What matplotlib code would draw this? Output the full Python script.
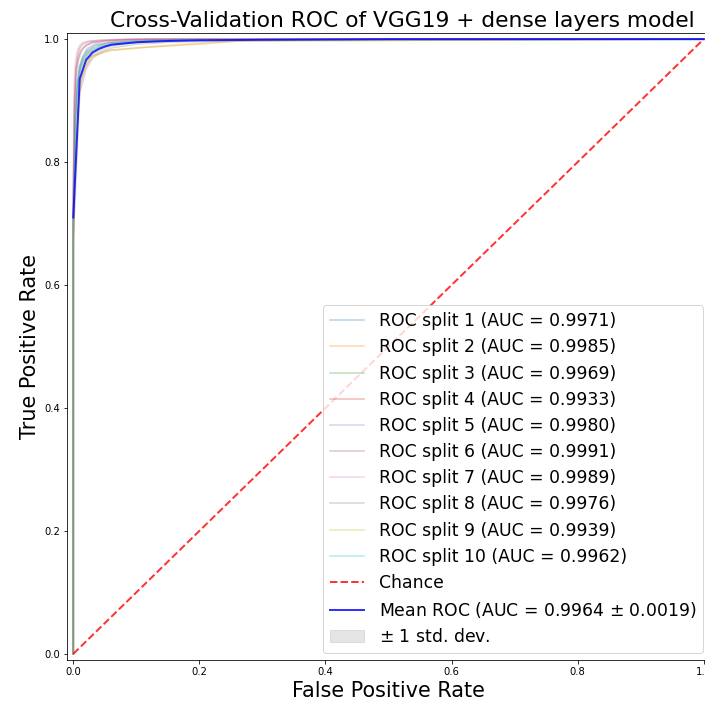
import matplotlib
matplotlib.use("Agg")
import matplotlib.pyplot as plt
import numpy as np

title = "Cross-Validation ROC of VGG19 + dense layers model"
aucs = [0.9971, 0.9985, 0.9969, 0.9933, 0.9980, 0.9991, 0.9989, 0.9976, 0.9939, 0.9962]
mean_auc = 0.9964
std_auc = 0.0019

# per-split ROC curves (fpr, tpr)
split_fpr = [
    [0, 0, 0.003, 0.006, 0.010, 0.015, 0.022, 0.035, 0.06, 0.10, 0.16, 1.0],
    [0, 0, 0.004, 0.008, 0.012, 0.020, 0.030, 0.060, 0.12, 0.20, 0.265, 1.0],
    [0, 0, 0.003, 0.006, 0.010, 0.016, 0.025, 0.045, 0.08, 0.13, 0.20, 1.0],
    [0, 0, 0.002, 0.004, 0.008, 0.012, 0.020, 0.030, 0.05, 0.08, 0.14, 1.0],
    [0, 0, 0.002, 0.005, 0.008, 0.012, 0.018, 0.030, 0.05, 0.08, 0.12, 1.0],
    [0, 0, 0.002, 0.004, 0.007, 0.010, 0.015, 0.025, 0.04, 0.06, 0.10, 1.0],
    [0, 0, 0.001, 0.003, 0.006, 0.010, 0.016, 0.025, 0.04, 0.06, 0.09, 1.0],
    [0, 0, 0.003, 0.006, 0.010, 0.015, 0.022, 0.035, 0.06, 0.09, 0.15, 1.0],
    [0, 0, 0.004, 0.008, 0.012, 0.018, 0.028, 0.050, 0.10, 0.18, 0.25, 1.0],
    [0, 0, 0.003, 0.006, 0.010, 0.015, 0.024, 0.040, 0.07, 0.11, 0.18, 1.0],
]
split_tpr = [
    [0, 0.70, 0.86, 0.92, 0.955, 0.970, 0.982, 0.990, 0.994, 0.997, 0.999, 1.0],
    [0, 0.66, 0.82, 0.89, 0.930, 0.955, 0.972, 0.982, 0.987, 0.992, 0.997, 1.0],
    [0, 0.68, 0.85, 0.91, 0.945, 0.965, 0.978, 0.988, 0.993, 0.997, 0.999, 1.0],
    [0, 0.75, 0.90, 0.95, 0.970, 0.982, 0.990, 0.995, 0.997, 0.999, 1.000, 1.0],
    [0, 0.72, 0.88, 0.94, 0.965, 0.978, 0.988, 0.994, 0.997, 0.999, 1.000, 1.0],
    [0, 0.74, 0.90, 0.95, 0.975, 0.985, 0.992, 0.996, 0.998, 0.999, 1.000, 1.0],
    [0, 0.76, 0.92, 0.96, 0.980, 0.990, 0.995, 0.997, 0.998, 0.999, 1.000, 1.0],
    [0, 0.71, 0.87, 0.93, 0.955, 0.972, 0.985, 0.992, 0.995, 0.998, 0.999, 1.0],
    [0, 0.67, 0.83, 0.89, 0.935, 0.958, 0.972, 0.981, 0.986, 0.992, 0.997, 1.0],
    [0, 0.70, 0.86, 0.92, 0.950, 0.968, 0.980, 0.988, 0.993, 0.996, 0.999, 1.0],
]

mean_fpr = [0.0, 0.0101, 0.0202, 0.0303, 0.0404, 0.0505, 0.0606, 0.0808, 0.101, 0.15, 0.2, 0.3, 0.4, 0.5, 1.0]
mean_tpr = [0.71, 0.935, 0.966, 0.978, 0.984, 0.988, 0.991, 0.993, 0.995, 0.997, 0.998, 0.999, 0.9995, 1.0, 1.0]
tpr_std = [0.03, 0.022, 0.014, 0.009, 0.007, 0.006, 0.005, 0.004, 0.003, 0.002, 0.0015, 0.001, 0.0005, 0.0, 0.0]

fig = plt.figure(figsize=(705 / 72, 704 / 72), dpi=72)
ax = fig.add_axes([67 / 705, 1 - 660 / 704, 643 / 705, 627 / 704])

for i in range(10):
    ax.plot(split_fpr[i], split_tpr[i], lw=1.6, alpha=0.3,
            label="ROC split %d (AUC = %0.4f)" % (i + 1, aucs[i]))

ax.plot([0, 1], [0, 1], linestyle="--", lw=2, color="r", alpha=0.8, label="Chance")

mt = np.array(mean_tpr)
sd = np.array(tpr_std)
ax.plot(mean_fpr, mean_tpr, color="b", lw=2, alpha=0.8,
        label=r"Mean ROC (AUC = %0.4f $\pm$ %0.4f)" % (mean_auc, std_auc))
ax.fill_between(mean_fpr, np.maximum(mt - sd, 0), np.minimum(mt + sd, 1),
                color="grey", alpha=0.2, label=r"$\pm$ 1 std. dev.")

ax.set_xlim(-0.01, 1.01)
ax.set_ylim(-0.01, 1.01)
ax.set_xlabel("False Positive Rate", fontsize=20.8)
ax.set_ylabel("True Positive Rate", fontsize=20.8)
ax.set_title(title, fontsize=21.8, x=(402 - 67) / 643)
ax.legend(loc="lower right", fontsize=17.2, labelspacing=0.475, handletextpad=0.85,
          borderaxespad=0.4)

fig.savefig("out.png", dpi=72)
